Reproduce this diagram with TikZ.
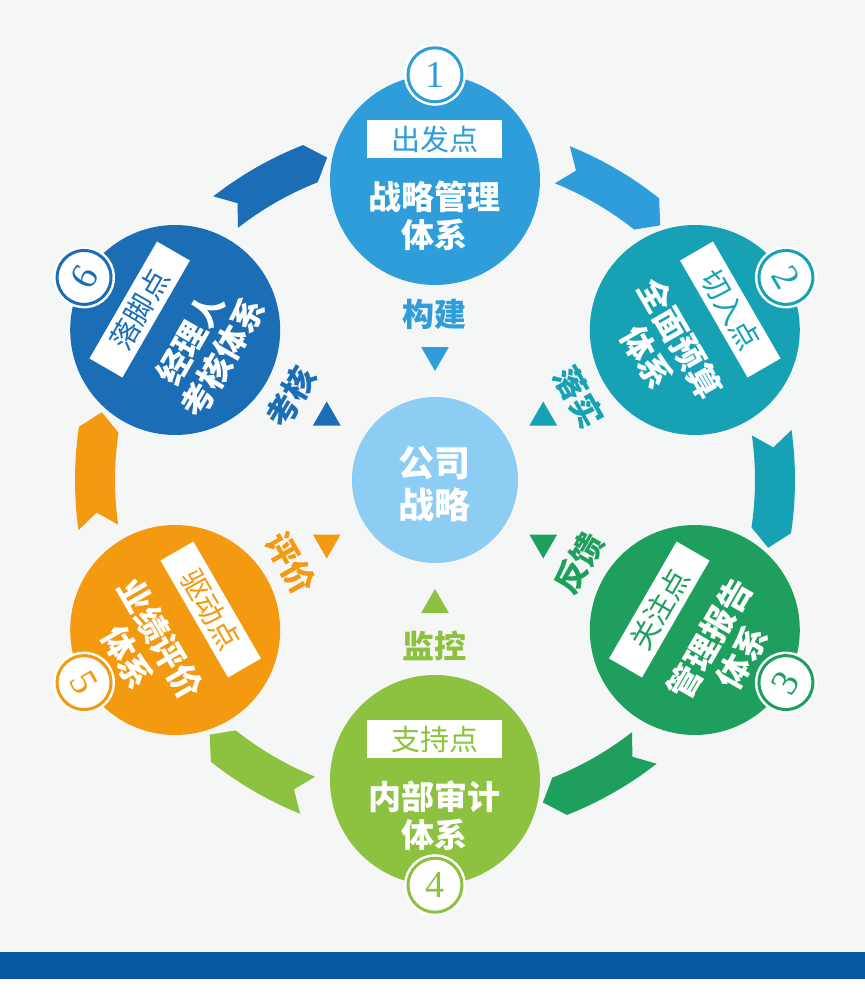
\documentclass[tikz,border=0pt]{standalone}
\usepackage{fontspec}
\usetikzlibrary{shapes.geometric}
\newfontfamily\cjk{Noto Sans CJK SC}
\newfontfamily\digits{Liberation Serif}
\definecolor{cA}{HTML}{2E9DDA}
\definecolor{cB}{HTML}{17A1B4}
\definecolor{cC}{HTML}{1F9F5D}
\definecolor{cD}{HTML}{8CC23F}
\definecolor{cE}{HTML}{F39A11}
\definecolor{cF}{HTML}{1B6DB6}
\definecolor{coreblue}{HTML}{8ECDF3}
\definecolor{paper}{HTML}{F5F6F6}
\definecolor{band}{HTML}{0559A0}
\newcommand\ribbon[2]{%
  \fill[#2] (#1-22:360) arc[start angle=#1-22, end angle=#1-38.5, radius=360]
    -- (#1-41.5:340) -- (#1-38.5:320) arc[start angle=#1-38.5, end angle=#1-22, radius=320]
    -- (#1-24.5:340) -- cycle;}
\tikzset{
  disc/.style={circle, minimum size=210pt, inner sep=0pt},
  tag/.style={fill=white, minimum width=135pt, minimum height=38pt, inner sep=0pt,
    font=\cjk\fontsize{29}{29}\selectfont},
  headline/.style={text=white, align=center, inner sep=0pt,
    font=\cjk\bfseries\fontsize{33}{38}\selectfont},
  numc/.style={circle, fill=white, line width=3pt, minimum size=54pt, inner sep=0pt,
    font=\digits\fontsize{38}{38}\selectfont, preaction={draw=white, line width=8pt}},
  tri/.style={regular polygon, regular polygon sides=3, minimum size=32pt, inner sep=0pt},
  verb/.style={inner sep=0pt, font=\cjk\bfseries\fontsize{32}{32}\selectfont}
}
\begin{document}
\begin{tikzpicture}[x=1pt, y=1pt]
  \useasboundingbox (-435,-517) rectangle (430,480);
  \fill[paper] (-435,-472) rectangle (430,480);
  \fill[band] (-435,-499) rectangle (430,-472);
  \fill[white] (-435,-517) rectangle (430,-499);

  \ribbon{90}{cA}
  \ribbon{30}{cB}
  \ribbon{-30}{cC}
  \ribbon{-90}{cD}
  \ribbon{-150}{cE}
  \ribbon{150}{cF}

  \node[disc, fill=coreblue, minimum size=166pt] (c0) at (0,0) {};
  \node[headline, font=\cjk\bfseries\fontsize{36}{42}\selectfont] (w0) at (0,-4) {公司\\战略};

  \node[disc, fill=cA] (c1) at (90:300) {};
  \begin{scope}[shift={(c1.center)}, transform shape]
    \node[tag, text=cA] (t1) at (0,41) {出发点};
    \node[headline] (h1) at (0,-36) {战略管理\\体系};
  \end{scope}
  \node[numc, draw=cA, text=cA] (n1) at (c1.90) {1};
  \node[tri, fill=cA, rotate=180] (m1) at (90:125) {};
  \node[verb, text=cA] (v1) at (90:166) {构建};

  \node[disc, fill=cB] (c2) at (30:300) {};
  \begin{scope}[shift={(c2.center)}, rotate=-60, transform shape]
    \node[tag, text=cB] (t2) at (0,41) {切入点};
    \node[headline] (h2) at (0,-36) {全面预算\\体系};
  \end{scope}
  \node[numc, draw=cB, text=cB, rotate=-60] (n2) at (c2.30) {2};
  \node[tri, fill=cB, rotate=120] (m2) at (30:125) {};
  \node[verb, text=cB, rotate=-60] (v2) at (30:166) {落实};

  \node[disc, fill=cC] (c3) at (-30:300) {};
  \begin{scope}[shift={(c3.center)}, rotate=60, transform shape]
    \node[tag, text=cC] (t3) at (0,41) {关注点};
    \node[headline] (h3) at (0,-36) {管理报告\\体系};
  \end{scope}
  \node[numc, draw=cC, text=cC, rotate=60] (n3) at (c3.-30) {3};
  \node[tri, fill=cC, rotate=60] (m3) at (-30:125) {};
  \node[verb, text=cC, rotate=60] (v3) at (-30:166) {反馈};

  \node[disc, fill=cD] (c4) at (-90:300) {};
  \begin{scope}[shift={(c4.center)}, transform shape]
    \node[tag, text=cD] (t4) at (0,41) {支持点};
    \node[headline] (h4) at (0,-36) {内部审计\\体系};
  \end{scope}
  \node[numc, draw=cD, text=cD] (n4) at (c4.-90) {4};
  \node[tri, fill=cD] (m4) at (-90:125) {};
  \node[verb, text=cD] (v4) at (-90:166) {监控};

  \node[disc, fill=cE] (c5) at (210:300) {};
  \begin{scope}[shift={(c5.center)}, rotate=-60, transform shape]
    \node[tag, text=cE] (t5) at (0,41) {驱动点};
    \node[headline] (h5) at (0,-36) {业绩评价\\体系};
  \end{scope}
  \node[numc, draw=cE, text=cE, rotate=-60] (n5) at (c5.210) {5};
  \node[tri, fill=cE, rotate=-60] (m5) at (210:125) {};
  \node[verb, text=cE, rotate=-60] (v5) at (210:166) {评价};

  \node[disc, fill=cF] (c6) at (150:300) {};
  \begin{scope}[shift={(c6.center)}, rotate=60, transform shape]
    \node[tag, text=cF] (t6) at (0,41) {落脚点};
    \node[headline] (h6) at (0,-36) {经理人\\考核体系};
  \end{scope}
  \node[numc, draw=cF, text=cF, rotate=60] (n6) at (c6.150) {6};
  \node[tri, fill=cF, rotate=240] (m6) at (150:125) {};
  \node[verb, text=cF, rotate=60] (v6) at (150:166) {考核};
\end{tikzpicture}
\end{document}
